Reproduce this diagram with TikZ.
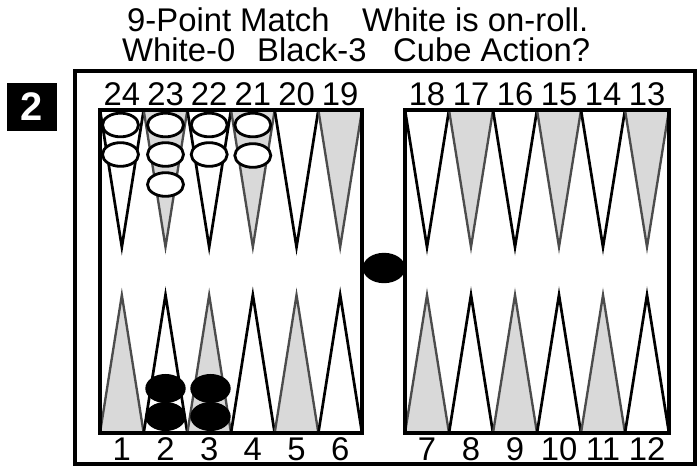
\documentclass[tikz,border=0pt]{standalone}
\usepackage{fontspec}
\setmainfont{Liberation Sans}
\usepackage{xcolor}
\usetikzlibrary{shapes,positioning}

\begin{document}
\begin{tikzpicture}[x=0.03cm, y=-0.03cm,
  every node/.style={font=\fontsize{28}{34}\selectfont, inner sep=0pt},
  frame/.style={draw, line width=3.4pt},
  board/.style={draw, line width=2.6pt},
  whitept/.style={draw, fill=white, line width=2.3pt, line join=miter},
  graypt/.style={draw=black!70, fill=gray!30, line width=2.0pt, line join=miter},
  top0/.style={whitept}, top1/.style={graypt},
  bot0/.style={graypt},  bot1/.style={whitept},
  wchk/.style={ellipse, draw, fill=white, line width=2.4pt,
               minimum width=1.08cm, minimum height=0.71cm},
  bchk/.style={ellipse, draw, fill=black, line width=2pt,
               minimum width=1.14cm, minimum height=0.8cm},
  num/.style={anchor=base}]

  \useasboundingbox (0,0) rectangle (698,471);

  % ---- Header ----
  \node[anchor=base west] (match) at (127,31) {9-Point Match};
  \node[anchor=base west] (roll)  at (362,31) {White is on-roll.};
  \node[anchor=base west] (swhite) at (122,61) {White-0};
  \node[anchor=base west] (sblack) at (257,61) {Black-3};
  \node[anchor=base west] (cube)  at (393,61) {Cube Action?};

  % ---- Problem badge ----
  \node[fill=black, minimum width=1.5cm, minimum height=1.44cm,
        font=\fontsize{34}{38}\selectfont\bfseries, text=white]
    (badge) at (32,107) {2};

  % ---- Outer frame ----
  \draw[frame] (75,71) rectangle (695,464);

  % ---- Points and numbers (left board, right board) ----
  \foreach \bx/\bw/\ntop/\nbot in {100/43.67/24/1, 405/44/18/7} {
    \foreach \k in {0,...,5} {
      \pgfmathsetmacro{\xa}{\bx+\k*\bw}
      \pgfmathsetmacro{\xb}{\xa+\bw}
      \pgfmathsetmacro{\xm}{\xa+\bw/2}
      \pgfmathtruncatemacro{\odd}{mod(\k,2)}
      \pgfmathtruncatemacro{\nt}{\ntop-\k}
      \pgfmathtruncatemacro{\nb}{\nbot+\k}
      \draw[top\odd] (\xa,110) -- (\xm,247) -- (\xb,110);
      \draw[bot\odd] (\xa,433) -- (\xm,295) -- (\xb,433);
      \node[num] (p\nt) at (\xm,105) {\nt};
      \node[num] (p\nb) at (\xm,460) {\nb};
    }
  }

  % ---- Boards ----
  \draw[board] (100,110) rectangle (362,433);
  \draw[board] (405,110) rectangle (669,433);

  % ---- White checkers ----
  \node[wchk] (w24a) at (120.5,125) {};
  \node[wchk] (w24b) at (120.5,154.5) {};
  \node[wchk] (w23a) at (165.5,125) {};
  \node[wchk] (w23b) at (165.5,154.5) {};
  \node[wchk] (w23c) at (165.5,184.5) {};
  \node[wchk] (w22a) at (209.2,125) {};
  \node[wchk] (w22b) at (209.2,154.5) {};
  \node[wchk] (w21a) at (252.8,125) {};
  \node[wchk] (w21b) at (252.8,155.5) {};

  % ---- Black checkers ----
  \node[bchk] (b2a) at (165.5,416.5) {};
  \node[bchk] (b2b) at (165.5,388.5) {};
  \node[bchk] (b3a) at (210.5,416.5) {};
  \node[bchk] (b3b) at (210.5,388.5) {};

  % ---- Checker on the bar ----
  \node[bchk, minimum width=1.2cm, minimum height=0.84cm] (bar) at (384,268) {};
\end{tikzpicture}
\end{document}
